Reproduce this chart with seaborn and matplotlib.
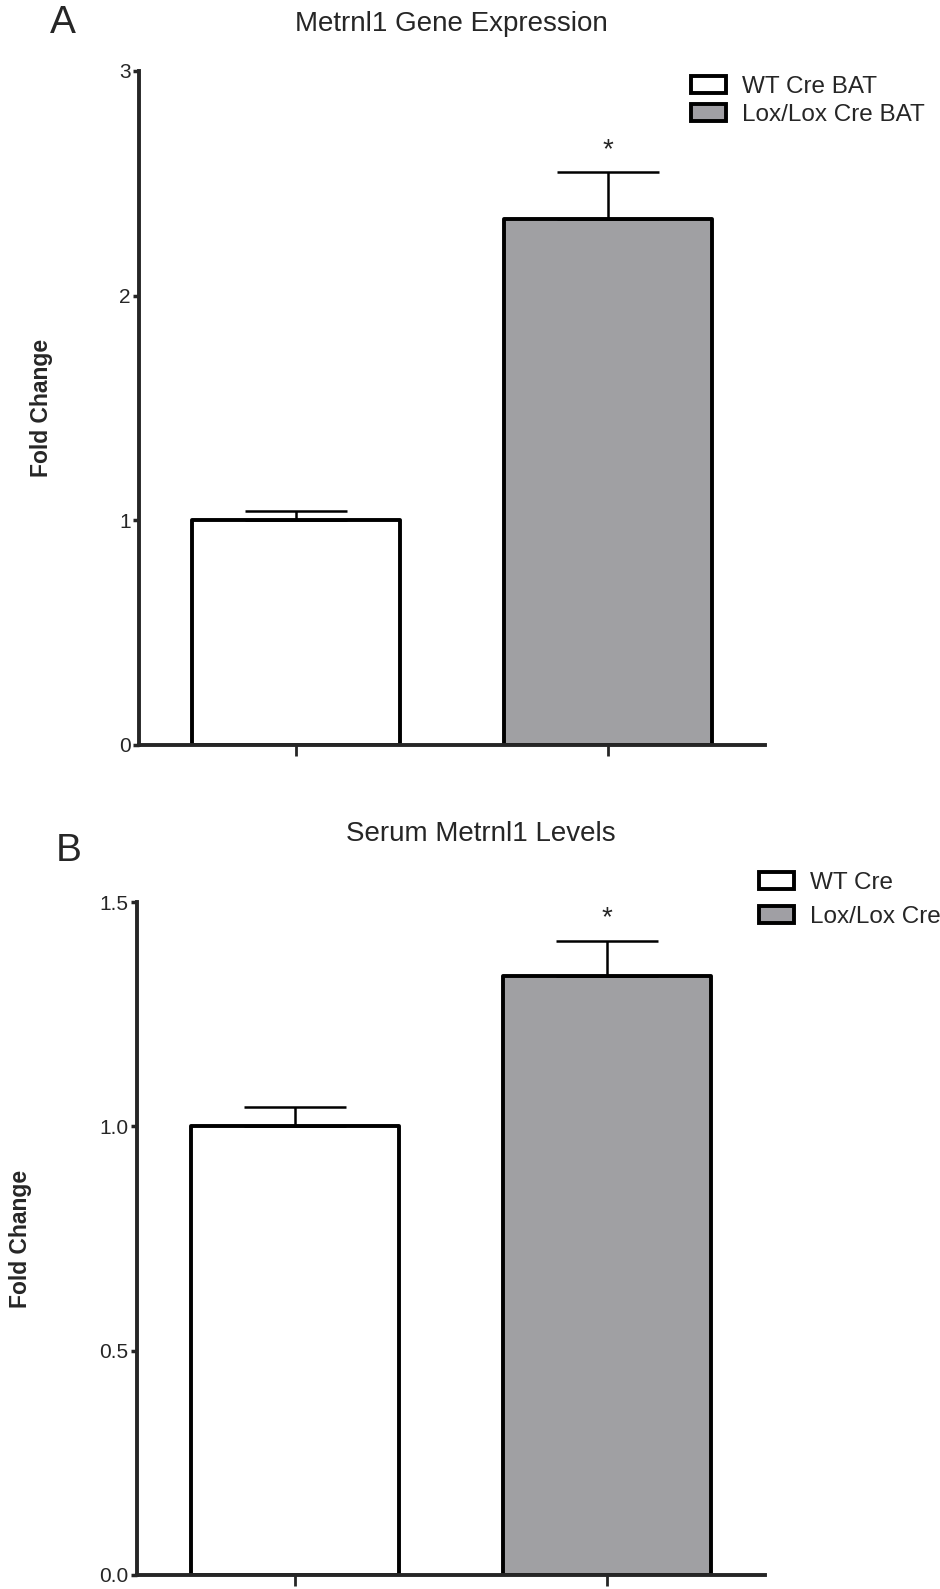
import numpy as np
import pandas as pd
import matplotlib
matplotlib.use("Agg")
import matplotlib.pyplot as plt
import matplotlib.patches as mpatches
import seaborn as sns

# data
groups_a = ["WT Cre BAT", "Lox/Lox Cre BAT"]
mean_a = [1.00, 2.34]
sem_a = [0.04, 0.21]

groups_b = ["WT Cre", "Lox/Lox Cre"]
mean_b = [1.00, 1.335]
sem_b = [0.042, 0.079]

colors = ["#FFFFFF", "#A09FA4"]

sns.set_style("white")
plt.rcParams['font.family'] = ['Liberation Sans', 'DejaVu Sans']

fig = plt.figure(figsize=(9.4, 15.89), dpi=100)
W, H = 940, 1589

def make_axes(left, right, top, bottom):
    return fig.add_axes([left / W, 1 - bottom / H, (right - left) / W, (bottom - top) / H])

ax_a = make_axes(139, 765, 71, 745)
ax_b = make_axes(137, 765, 902, 1575)


def draw_panel(ax, groups, means, sems, ymax, ticks, ticklabels, star_off):
    df = pd.DataFrame({"group": groups, "value": means})
    sns.barplot(data=df, x="group", y="value", hue="group", palette=colors,
                order=groups, hue_order=groups, errorbar=None, width=0.667,
                edgecolor="black", linewidth=2.8, legend=False, ax=ax)
    for p in ax.patches:
        p.set_joinstyle("round")
    x = np.arange(len(groups))
    ax.errorbar(x, means, yerr=[np.zeros(len(sems)), sems], fmt="none",
                ecolor="black", elinewidth=1.8, capsize=37, capthick=1.8, zorder=1)
    ax.annotate("*", xy=(1, means[1] + sems[1]), xytext=(0, star_off),
                textcoords="offset points", ha="center", va="center", fontsize=20)
    ax.set_xlim(-0.505, 1.505)
    ax.set_ylim(0, ymax)
    ax.set_yticks(ticks)
    ax.set_yticklabels(ticklabels, fontsize=15)
    ax.set_xticks(x)
    ax.set_xticklabels([])
    ax.set_xlabel("")
    ax.set_ylabel("Fold Change", fontsize=16.5, fontweight="bold")
    sns.despine(ax=ax)
    for s in ["left", "bottom"]:
        ax.spines[s].set_linewidth(2.8)
    ax.tick_params(axis="y", direction="out", length=4, width=2.5, pad=2, left=True)
    ax.tick_params(axis="x", direction="out", length=8, width=2, bottom=True)
    handles = [mpatches.Patch(facecolor=c, edgecolor="black", linewidth=2.8,
                              joinstyle="round") for c in colors]
    return handles


h_a = draw_panel(ax_a, groups_a, mean_a, sem_a, 3, [0, 1, 2, 3],
                 ["0", "1", "2", "3"], 16)
ax_a.yaxis.set_label_coords(-0.138, 0.5)
h_b = draw_panel(ax_b, groups_b, mean_b, sem_b, 1.5, [0, 0.5, 1.0, 1.5],
                 ["0.0", "0.5", "1.0", "1.5"], 16)
ax_b.yaxis.set_label_coords(-0.167, 0.5)

fig.legend(h_a, groups_a, loc="upper left", bbox_to_anchor=(691 / W, 1 - 76 / H),
           frameon=False, fontsize=17.5, handlelength=1.45, handleheight=0.7,
           handletextpad=0.65, labelspacing=0.26, borderpad=0, borderaxespad=0)
fig.legend(h_b, groups_b, loc="upper left", bbox_to_anchor=(759 / W, 1 - 872 / H),
           frameon=False, fontsize=17.5, handlelength=1.45, handleheight=0.7,
           handletextpad=0.65, labelspacing=0.5, borderpad=0, borderaxespad=0)

fig.text(451 / W, 1 - 24 / H, "Metrnl1 Gene Expression", ha="center", va="center", fontsize=20)
fig.text(481 / W, 1 - 834 / H, "Serum Metrnl1 Levels", ha="center", va="center", fontsize=20)
fig.text(63 / W, 1 - 23 / H, "A", ha="center", va="center", fontsize=28)
fig.text(69 / W, 1 - 851 / H, "B", ha="center", va="center", fontsize=28)

fig.savefig("out.png", dpi=100)
